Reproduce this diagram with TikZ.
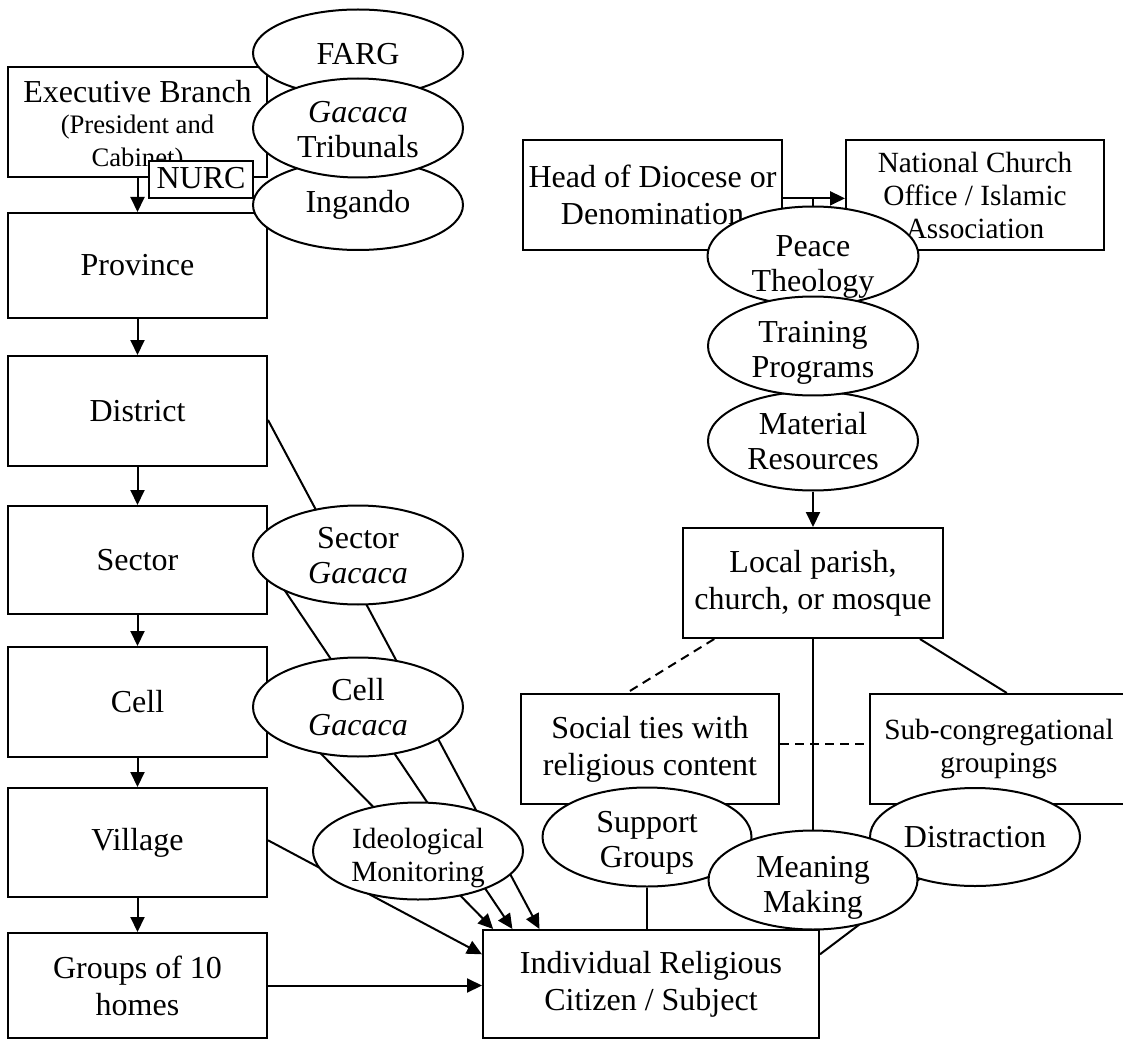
\documentclass[tikz,border=0pt]{standalone}
\usepackage{fontspec}
\setmainfont{Liberation Serif}
\usetikzlibrary{shapes.geometric,arrows.meta,calc}
\pgfdeclarelayer{background}
\pgfsetlayers{background,main}
\newcommand{\fntA}{\fontsize{32}{37}\selectfont}
\newcommand{\fntE}{\fontsize{32}{35}\selectfont}
\newcommand{\fntB}{\fontsize{29.3}{33}\selectfont}
\newcommand{\fntC}{\fontsize{26.7}{31}\selectfont}
% lower a centred block of lines by #1 without changing its box
\newcommand{\lowr}[2]{\raisebox{-#1}[\height][\depth]{\begin{tabular}{@{}c@{}}#2\end{tabular}}}
\begin{document}
\begin{tikzpicture}[x=1pt,y=-1pt,
  box/.style={draw, line width=2pt, fill=white, rectangle, inner sep=0pt, align=center, font=\fntA},
  oval/.style={draw, line width=2pt, fill=white, ellipse, inner sep=0pt, font=\fntE},
  conn/.style={line width=2pt},
  arr/.style={line width=2pt, -{Triangle[length=15pt,width=14pt]}},
  dsh/.style={line width=2pt, dash pattern=on 9pt off 6pt}]
\useasboundingbox (0,0) rectangle (1123,1040);
\clip (0,0) rectangle (1123,1040);

% ---------- left column boxes ----------
\node[box, minimum width=259pt, minimum height=110pt] (exec) at (137.5,122)
  {\lowr{5pt}{Executive Branch\\[-6pt]\fntC (President and\\[-4pt]\fntC Cabinet)}};
\node[box, minimum width=104pt, minimum height=33pt] (nurc) at (201,179.5) {\lowr{2pt}{NURC}};
\node[box, minimum width=259pt, minimum height=105pt] (province) at (137.5,265.5) {Province};
\node[box, minimum width=259pt, minimum height=110pt] (district) at (137.5,411) {District};
\node[box, minimum width=259pt, minimum height=108pt] (sector) at (137.5,560) {Sector};
\node[box, minimum width=259pt, minimum height=110pt] (cell) at (137.5,702) {Cell};
\node[box, minimum width=259pt, minimum height=109pt] (village) at (137.5,842.5) {Village};
\node[box, minimum width=259pt, minimum height=105pt] (groups) at (137.5,985.5) {Groups of 10\\homes};

% ---------- right boxes ----------
\node[box, minimum width=259pt, minimum height=110pt] (head) at (652.5,195) {Head of Diocese or\\Denomination};
\node[box, font=\fntB, minimum width=258pt, minimum height=110pt] (national) at (975,195) {National Church\\Office / Islamic\\Association};
\node[box, minimum width=260pt, minimum height=110pt] (local) at (813,583) {Local parish,\\church, or mosque};
\node[box, minimum width=258pt, minimum height=110pt] (social) at (650,749) {Social ties with\\religious content};
\node[box, font=\fntB, minimum width=258pt, minimum height=110pt] (sub) at (999,749) {Sub-congregational\\groupings};
\node[box, minimum width=336pt, minimum height=108pt] (indiv) at (651,984) {Individual Religious\\Citizen / Subject};

% ---------- ellipses ----------
\node[oval, minimum width=210pt, minimum height=87pt] (farg) at (358,53) {\lowr{5pt}{FARG}};
\node[oval, minimum width=210pt, minimum height=90pt] (ingando) at (358,205) {Ingando};
\node[oval, minimum width=210pt, minimum height=97pt] (gacaca) at (358,128) {\lowr{5pt}{\textit{Gacaca}\\Tribunals}};
\node[oval, minimum width=210pt, minimum height=97pt] (sectorg) at (358,555) {\lowr{4pt}{Sector\\\textit{Gacaca}}};
\node[oval, minimum width=210pt, minimum height=98pt] (cellg) at (358,707) {\lowr{4pt}{Cell\\\textit{Gacaca}}};
\node[oval, font=\fntB, minimum width=210pt, minimum height=97pt] (im) at (418,851) {\lowr{7pt}{Ideological\\Monitoring}};
\node[oval, minimum width=211pt, minimum height=92pt] (peace) at (813,256) {\lowr{11pt}{Peace\\Theology}};
\node[oval, minimum width=210pt, minimum height=98pt] (material) at (813,441) {\lowr{4pt}{Material\\Resources}};
\node[oval, minimum width=210pt, minimum height=97pt] (training) at (813,346) {\lowr{7pt}{Training\\Programs}};
\node[oval, minimum width=209pt, minimum height=99pt] (support) at (647,837) {\lowr{6pt}{Support\\Groups}};
\node[oval, minimum width=210pt, minimum height=98pt] (distraction) at (975,837) {Distraction};
\node[oval, minimum width=209pt, minimum height=95pt] (meaning) at (813,880) {\lowr{8pt}{Meaning\\Making}};

% ---------- connectors (behind) ----------
\begin{pgfonlayer}{background}
  \draw[arr] (exec) -- (province);
  \draw[arr] (province) -- (district);
  \draw[arr] (district) -- (sector);
  \draw[arr] (sector) -- (cell);
  \draw[arr] (cell) -- (village);
  \draw[arr] (village) -- (groups);
  \draw[arr] (groups.east) -- (groups.east -| indiv.west);

  \coordinate (vs) at ($(village.north east)!0.48!(village.south east)$);
  \coordinate (ve) at ($(indiv.north west)!0.23!(indiv.south west)$);
  \draw[arr] (vs) -- (ve);

  \coordinate (ds) at ($(district.north east)!0.58!(district.south east)$);
  \coordinate (de) at ($(indiv.north west)!0.17!(indiv.north east)$);
  \draw[arr] (ds) -- (de);
  \coordinate (ss) at ($(sector.north east)!0.55!(sector.south east)$);
  \coordinate (se) at ($(indiv.north west)!0.09!(indiv.north east)$);
  \draw[arr] (ss) -- (se);
  \coordinate (cs) at ($(cell.north east)!0.48!(cell.south east)$);
  \coordinate (ce) at ($(indiv.north west)!0.033!(indiv.north east)$);
  \draw[arr] (cs) -- (ce);

  \coordinate (ha) at ($(head.north east)!0.53!(head.south east)$);
  \draw[arr] (ha) -- (ha -| national.west);
  \draw[conn] (peace.north) -- (peace.north |- ha);
  \draw[arr] (material) -- (local);

  \coordinate (l1) at ($(local.south west)!0.123!(local.south east)$);
  \coordinate (s1) at ($(social.north west)!0.41!(social.north east)$);
  \draw[dsh] (l1) -- (s1);
  \coordinate (l2) at ($(local.south west)!0.908!(local.south east)$);
  \coordinate (s2) at ($(sub.north west)!0.53!(sub.north east)$);
  \draw[conn] (l2) -- (s2);
  \draw[conn] (local.south) -- (meaning.north);
  \coordinate (sd) at ($(social.north east)!0.455!(social.south east)$);
  \draw[dsh] (sd) -- (sd -| sub.west);
  \draw[conn] (support.south) -- (support.south |- indiv.north);
  \coordinate (ie) at ($(indiv.north east)!0.23!(indiv.south east)$);
  \draw[conn] (distraction.center) -- (ie);
\end{pgfonlayer}
\end{tikzpicture}
\end{document}
